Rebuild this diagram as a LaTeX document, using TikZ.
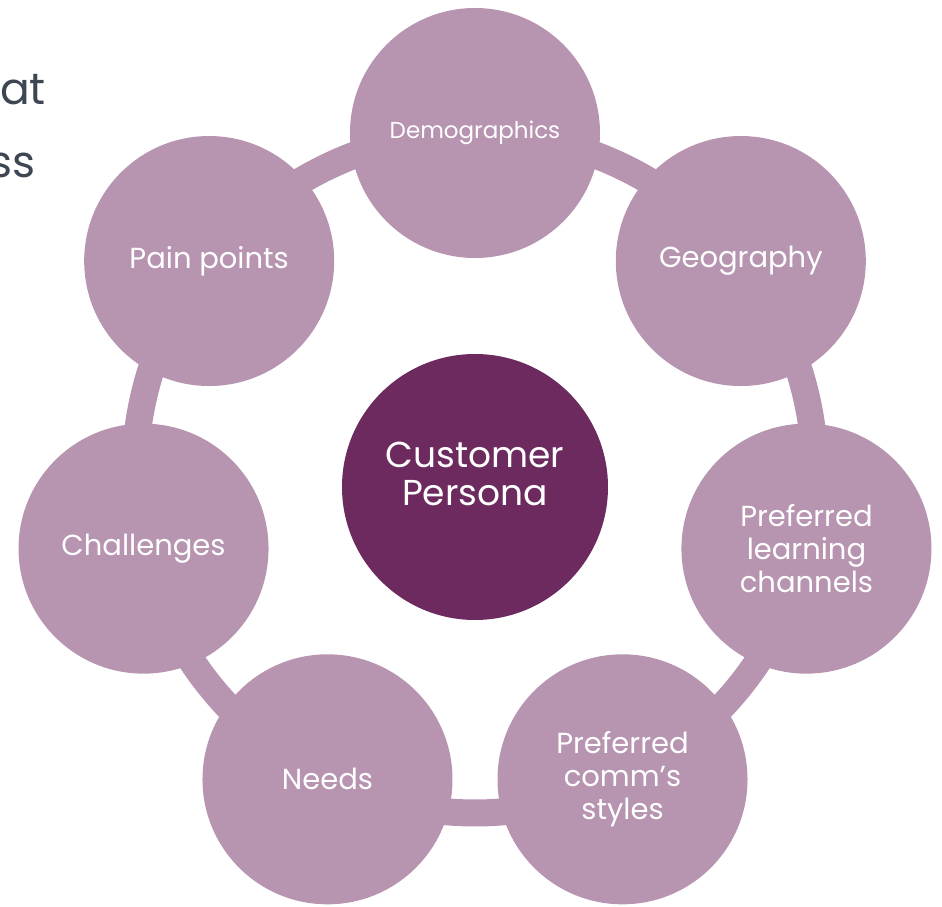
\documentclass[tikz,border=0pt]{standalone}
\usepackage{fontspec}
\setmainfont{Poppins}
\definecolor{mauve}{HTML}{B794B0}
\definecolor{plum}{HTML}{6C2A5E}
\definecolor{slate}{HTML}{3D4652}
\begin{document}
\begin{tikzpicture}[x=1pt, y=1pt]
\tikzset{
  topic/.style={circle, fill=mauve, minimum size=250pt, inner sep=0pt,
    text=white, align=center, font=\fontsize{29}{33}\selectfont},
  core/.style={circle, fill=plum, minimum size=266pt, inner sep=0pt,
    text=white, align=center, font=\fontsize{36}{38}\selectfont},
  ring/.style={draw=mauve, line width=27pt}
}
\useasboundingbox (-475,-434) rectangle (467,473);
% bits of the slide text cut off at the left
\node[anchor=base east, text=slate, font=\fontsize{44}{50}\selectfont, inner sep=0pt] (cut1) at (-429,368) {at};
\node[anchor=base east, text=slate, font=\fontsize{44}{50}\selectfont, inner sep=0pt] (cut2) at (-439,295) {ss};
% ring behind the circles
\foreach \a in {0,...,6}
  \coordinate (r\a) at (90-51.4286*\a:340);
\foreach \a/\b in {0/1,1/2,2/3,3/4,4/5,5/6,6/0}
  \draw[ring] (r\a) arc[start angle=90-51.4286*\a, end angle=90-51.4286*\a-51.4286, radius=340];
\node[topic, font=\fontsize{23}{27}\selectfont] (demo) at (r0) {\raisebox{-3pt}{Demographics}};
\node[topic] (geo) at (r1) {\raisebox{-4pt}{Geography}};
\node[topic] (learn) at (r2) {Preferred\\learning\\channels};
\node[topic] (comm) at (r3) {Preferred\\comm’s\\styles};
\node[topic] (needs) at (r4) {Needs};
\node[topic] (chal) at (r5) {\raisebox{-3pt}{Challenges}};
\node[topic] (pain) at (r6) {\raisebox{-4pt}{Pain points}};
\node[core] (persona) at (0,-14) {\raisebox{2pt}[0pt][0pt]{\begin{tabular}{@{}c@{}}Customer\\Persona\end{tabular}}};
\end{tikzpicture}
\end{document}
